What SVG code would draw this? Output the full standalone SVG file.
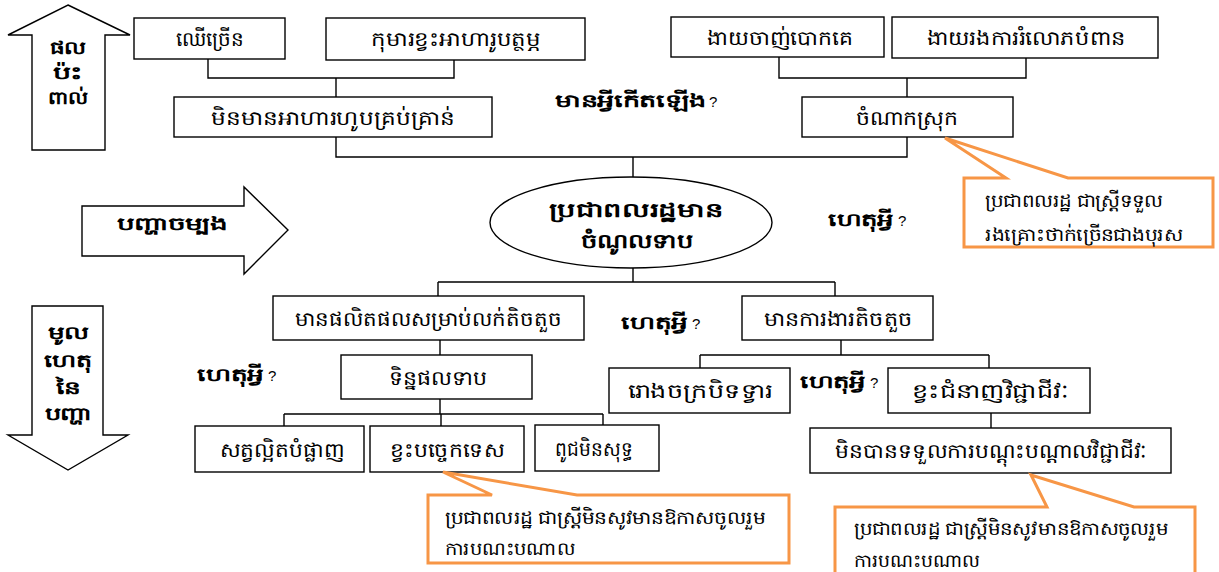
<svg xmlns="http://www.w3.org/2000/svg" width="1219" height="572" viewBox="0 0 1219 572">
<defs>
<style>
.box{fill:#fff;stroke:#000;stroke-width:1.4}
.big{fill:#fff;stroke:#000;stroke-width:1.4}
.conn{fill:none;stroke:#000;stroke-width:1.4}
.call{fill:#fff;stroke:#F79646;stroke-width:3}
.t{font-family:"Noto Sans","DejaVu Sans",sans-serif;font-size:20px;fill:#000;text-anchor:middle;dominant-baseline:central}
.b{font-family:"Noto Sans","DejaVu Sans",sans-serif;font-size:18px;font-weight:bold;fill:#000;dominant-baseline:central}
.bc{text-anchor:middle}
.q{font-family:"Liberation Sans",Arial,sans-serif;font-size:15px;fill:#000;dominant-baseline:central}
.e{font-family:"Noto Sans","DejaVu Sans",sans-serif;font-size:20px;font-weight:bold;fill:#000;text-anchor:middle;dominant-baseline:central}
.c{font-family:"Noto Sans","DejaVu Sans",sans-serif;font-size:18px;fill:#000;dominant-baseline:central}
</style>
</defs>
<rect width="1219" height="572" fill="#fff"/>

<g id="arrow-up">
<polygon class="big" points="68,5 130,35 105,35 105,150 32,150 32,35 8,35"/>
<text class="b bc" x="68" y="47" textLength="36" lengthAdjust="spacingAndGlyphs">ផល</text>
<text class="b bc" x="68" y="72" textLength="30" lengthAdjust="spacingAndGlyphs">ប៉ះ</text>
<text class="b bc" x="68" y="97" textLength="40" lengthAdjust="spacingAndGlyphs">ពាល់</text>
</g>
<g id="arrow-right">
<polygon class="big" points="82,206 244,206 244,187 288,230 244,274 244,256 82,256"/>
<text class="b bc" x="172" y="223" textLength="110" lengthAdjust="spacingAndGlyphs">បញ្ហាចម្បង</text>
</g>
<g id="arrow-down">
<polygon class="big" points="32,306 103,306 103,435 128,435 68,470 8,435 32,435"/>
<text class="b bc" x="68" y="332" textLength="41" lengthAdjust="spacingAndGlyphs">មូល</text>
<text class="b bc" x="68" y="360" textLength="48" lengthAdjust="spacingAndGlyphs">ហេតុ</text>
<text class="b bc" x="68" y="387" textLength="25" lengthAdjust="spacingAndGlyphs">នៃ</text>
<text class="b bc" x="68" y="413" textLength="47" lengthAdjust="spacingAndGlyphs">បញ្ហា</text>
</g>

<g id="connectors">
<path class="conn" d="M208,59 V78 H454 V60 M336,78 V97"/>
<path class="conn" d="M779,57 V78 H1026 V58 M907,78 V97"/>
<path class="conn" d="M336,137 V157 H907 V137 M633,157 V177"/>
<path class="conn" d="M633,268 V282 M438,282 H835 M438,282 V296 M835,282 V296"/>
<path class="conn" d="M440,340 V355"/>
<path class="conn" d="M440,399 V414 M284,414 H603 M284,414 V426 M441,414 V426 M603,414 V425"/>
<path class="conn" d="M841,340 V355 M700,355 H989 M700,355 V368 M989,355 V368"/>
<path class="conn" d="M991,413 V428"/>
</g>

<g id="n-chheu">
<rect class="box" x="134" y="18" width="151" height="41"/>
<text class="t" x="210" y="38" textLength="68" lengthAdjust="spacingAndGlyphs">ឈើច្រើន</text>
</g>
<g id="n-komar">
<rect class="box" x="326" y="18" width="259" height="42"/>
<text class="t" x="456" y="38" textLength="170" lengthAdjust="spacingAndGlyphs">កុមារខ្វះអាហារូបត្ថម្ភ</text>
</g>
<g id="n-ngay-chanh">
<rect class="box" x="671" y="17" width="213" height="40"/>
<text class="t" x="780" y="37" textLength="146" lengthAdjust="spacingAndGlyphs">ងាយចាញ់បោកគេ</text>
</g>
<g id="n-ngay-rong">
<rect class="box" x="892" y="17" width="266" height="41"/>
<text class="t" x="1026" y="37" textLength="199" lengthAdjust="spacingAndGlyphs">ងាយរងការរំលោភបំពាន</text>
</g>
<g id="n-minmean">
<rect class="box" x="174" y="97" width="318" height="40"/>
<text class="t" x="333" y="117" textLength="244" lengthAdjust="spacingAndGlyphs">មិនមានអាហារហូបគ្រប់គ្រាន់</text>
</g>
<g id="n-chomnak">
<rect class="box" x="802" y="97" width="211" height="40"/>
<text class="t" x="907" y="117" textLength="103" lengthAdjust="spacingAndGlyphs">ចំណាកស្រុក</text>
</g>
<g id="q-what">
<text class="b" x="555" y="100" textLength="150" lengthAdjust="spacingAndGlyphs">មានអ្វីកើតឡើង</text>
<text class="q" x="709" y="101">?</text>
</g>
<g id="center">
<ellipse class="box" cx="631" cy="222.5" rx="141" ry="45.5"/>
<text class="e" x="636" y="209" textLength="175" lengthAdjust="spacingAndGlyphs">ប្រជាពលរដ្ឋមាន</text>
<text class="e" x="637" y="240" textLength="113" lengthAdjust="spacingAndGlyphs">ចំណូលទាប</text>
</g>
<g id="q-why-1">
<text class="b" x="828" y="219" textLength="65" lengthAdjust="spacingAndGlyphs">ហេតុអ្វី</text>
<text class="q" x="898" y="220">?</text>
</g>
<g id="n-phalitphal">
<rect class="box" x="273" y="296" width="311" height="44"/>
<text class="t" x="428" y="318" textLength="267" lengthAdjust="spacingAndGlyphs">មានផលិតផលសម្រាប់លក់តិចតួច</text>
</g>
<g id="n-kangear">
<rect class="box" x="742" y="296" width="191" height="44"/>
<text class="t" x="838" y="318" textLength="149" lengthAdjust="spacingAndGlyphs">មានការងារតិចតួច</text>
</g>
<g id="q-why-2">
<text class="b" x="621" y="322" textLength="66" lengthAdjust="spacingAndGlyphs">ហេតុអ្វី</text>
<text class="q" x="692" y="323">?</text>
</g>
<g id="q-why-3">
<text class="b" x="197" y="374" textLength="66" lengthAdjust="spacingAndGlyphs">ហេតុអ្វី</text>
<text class="q" x="268" y="375">?</text>
</g>
<g id="n-tinphal">
<rect class="box" x="341" y="355" width="191" height="44"/>
<text class="t" x="438" y="377" textLength="99" lengthAdjust="spacingAndGlyphs">ទិន្នផលទាប</text>
</g>
<g id="n-roangchakr">
<rect class="box" x="609" y="368" width="181" height="45"/>
<text class="t" x="700" y="390" textLength="145" lengthAdjust="spacingAndGlyphs">រោងចក្របិទទ្វារ</text>
</g>
<g id="q-why-4">
<text class="b" x="800" y="381" textLength="65" lengthAdjust="spacingAndGlyphs">ហេតុអ្វី</text>
<text class="q" x="870" y="382">?</text>
</g>
<g id="n-chumnanh">
<rect class="box" x="888" y="368" width="202" height="45"/>
<text class="t" x="990" y="390" textLength="157" lengthAdjust="spacingAndGlyphs">ខ្វះជំនាញវិជ្ជាជីវៈ</text>
</g>
<g id="n-sat">
<rect class="box" x="195" y="426" width="169" height="46"/>
<text class="t" x="282" y="449" textLength="125" lengthAdjust="spacingAndGlyphs">សត្វល្អិតបំផ្លាញ</text>
</g>
<g id="n-bachek">
<rect class="box" x="370" y="426" width="154" height="46"/>
<text class="t" x="447" y="449" textLength="115" lengthAdjust="spacingAndGlyphs">ខ្វះបច្ចេកទេស</text>
</g>
<g id="n-puch">
<rect class="box" x="535" y="425" width="124" height="46"/>
<text class="t" x="594" y="448" textLength="78" lengthAdjust="spacingAndGlyphs">ពូជមិនសុទ្ធ</text>
</g>
<g id="n-bantoh">
<rect class="box" x="810" y="428" width="361" height="45"/>
<text class="t" x="991" y="450" textLength="312" lengthAdjust="spacingAndGlyphs">មិនបានទទួលការបណ្តុះបណ្តាលវិជ្ជាជីវៈ</text>
</g>

<g id="callout-1">
<path class="call" d="M964,178 H1006 L945,138 L1068,178 H1213 V247 H964 Z"/>
<text class="c" x="985" y="200" textLength="178" lengthAdjust="spacingAndGlyphs">ប្រជាពលរដ្ឋ ជាស្ត្រីទទួល</text>
<text class="c" x="985" y="234" textLength="198" lengthAdjust="spacingAndGlyphs">រងគ្រោះថាក់ច្រើនជាងបុរស</text>
</g>
<g id="callout-2">
<path class="call" d="M428,495 H492 L443,472 L577,495 H789 V563 H428 Z"/>
<text class="c" x="445" y="517" textLength="320" lengthAdjust="spacingAndGlyphs">ប្រជាពលរដ្ឋ ជាស្ត្រីមិនសូវមានឱកាសចូលរួម</text>
<text class="c" x="445" y="548" textLength="130" lengthAdjust="spacingAndGlyphs">ការបណះបណាល</text>
</g>
<g id="callout-3">
<path class="call" d="M835,507 H1047 L1031,475 L1134,507 H1195 V590 H835 Z"/>
<text class="c" x="854" y="528" textLength="314" lengthAdjust="spacingAndGlyphs">ប្រជាពលរដ្ឋ ជាស្ត្រីមិនសូវមានឱកាសចូលរួម</text>
<text class="c" x="854" y="560" textLength="126" lengthAdjust="spacingAndGlyphs">ការបណះបណាល</text>
</g>
</svg>
